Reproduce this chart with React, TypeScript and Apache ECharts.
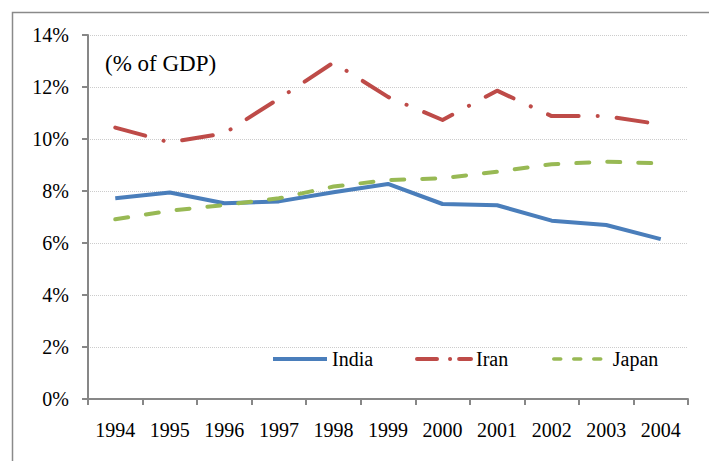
import React, { useEffect, useRef } from "react";
import * as echarts from "echarts";

const years = ["1994", "1995", "1996", "1997", "1998", "1999", "2000", "2001", "2002", "2003", "2004"];
const india = [7.72, 7.94, 7.53, 7.6, 7.95, 8.27, 7.5, 7.45, 6.86, 6.69, 6.15];
const iran = [10.44, 9.87, 10.22, 11.55, 12.94, 11.62, 10.73, 11.86, 10.88, 10.88, 10.56];
const japan = [6.91, 7.24, 7.46, 7.72, 8.17, 8.42, 8.49, 8.74, 9.03, 9.13, 9.06];
const seriesNames = ["India", "Iran", "Japan"];
const unitNote = "(% of GDP)";

const FONT = "Liberation Serif";
const COLORS = ["#4a7ebb", "#be4b48", "#98b954"];

export default function App() {
  const ref = useRef<HTMLDivElement>(null);
  useEffect(() => {
    document.body.style.margin = "0";
    const chart = echarts.init(ref.current!, null, { renderer: "svg" });
    const legendBase = (name: string, left: number, lineStyle: any) => ({
      data: [name],
      left,
      top: 349,
      padding: 0,
      itemWidth: 54,
      itemHeight: 14,
      selectedMode: false,
      itemStyle: { opacity: 0, borderWidth: 0 },
      lineStyle,
      textStyle: { fontFamily: FONT, fontSize: 20, color: "#000" },
    });
    chart.setOption({
      animation: false,
      backgroundColor: "#fff",
      textStyle: { fontFamily: FONT },
      grid: { left: 88, right: 21, top: 35, bottom: 62, containLabel: false },
      legend: [
        legendBase(seriesNames[0], 271, { width: 4, type: "solid", cap: "butt" }),
        legendBase(seriesNames[1], 415, { width: 4, type: [20, 13, 0.1, 9, 20], cap: "round" }),
        legendBase(seriesNames[2], 552, { width: 3.5, type: [7, 13], cap: "round" }),
      ],
      xAxis: {
        type: "category",
        data: years,
        boundaryGap: true,
        axisLine: { lineStyle: { color: "#878787", width: 2 } },
        axisTick: { show: true, length: 6, lineStyle: { color: "#878787", width: 2 } },
        axisLabel: { fontFamily: FONT, fontSize: 20, color: "#000", margin: 21, interval: 0 },
        splitLine: { show: false },
      },
      yAxis: {
        type: "value",
        min: 0,
        max: 14,
        interval: 2,
        axisLine: { show: true, lineStyle: { color: "#878787", width: 2 } },
        axisTick: { show: true, length: 6, lineStyle: { color: "#878787", width: 2 } },
        axisLabel: { fontFamily: FONT, fontSize: 20, color: "#000", margin: 19, formatter: "{value}%" },
        splitLine: { show: true, lineStyle: { type: "dotted", color: "#cccccc", width: 1 } },
      },
      series: [
        {
          name: seriesNames[0],
          type: "line",
          data: india,
          symbol: "none",
          color: COLORS[0],
          lineStyle: { width: 4, color: COLORS[0], join: "round" },
        },
        {
          name: seriesNames[1],
          type: "line",
          data: iran,
          symbol: "none",
          color: COLORS[1],
          lineStyle: { width: 4, color: COLORS[1], type: [31, 19, 0.1, 19], cap: "round", join: "round" },
        },
        {
          name: seriesNames[2],
          type: "line",
          data: japan,
          symbol: "none",
          color: COLORS[2],
          lineStyle: { width: 4, color: COLORS[2], type: [13, 18], cap: "round", join: "round" },
        },
      ],
      graphic: [
        {
          type: "polyline",
          shape: { points: [[12.5, 461], [12.5, 12.5], [709, 12.5]] },
          style: { stroke: "#8a8a8a", lineWidth: 1.5, fill: null },
          silent: true,
        },
        {
          type: "text",
          left: 105,
          top: 52,
          style: { text: unitNote, fontFamily: FONT, fontSize: 23, fill: "#000" },
        },
      ],
    });
    return () => chart.dispose();
  }, []);
  return <div ref={ref} style={{ width: 709, height: 461 }} />;
}
